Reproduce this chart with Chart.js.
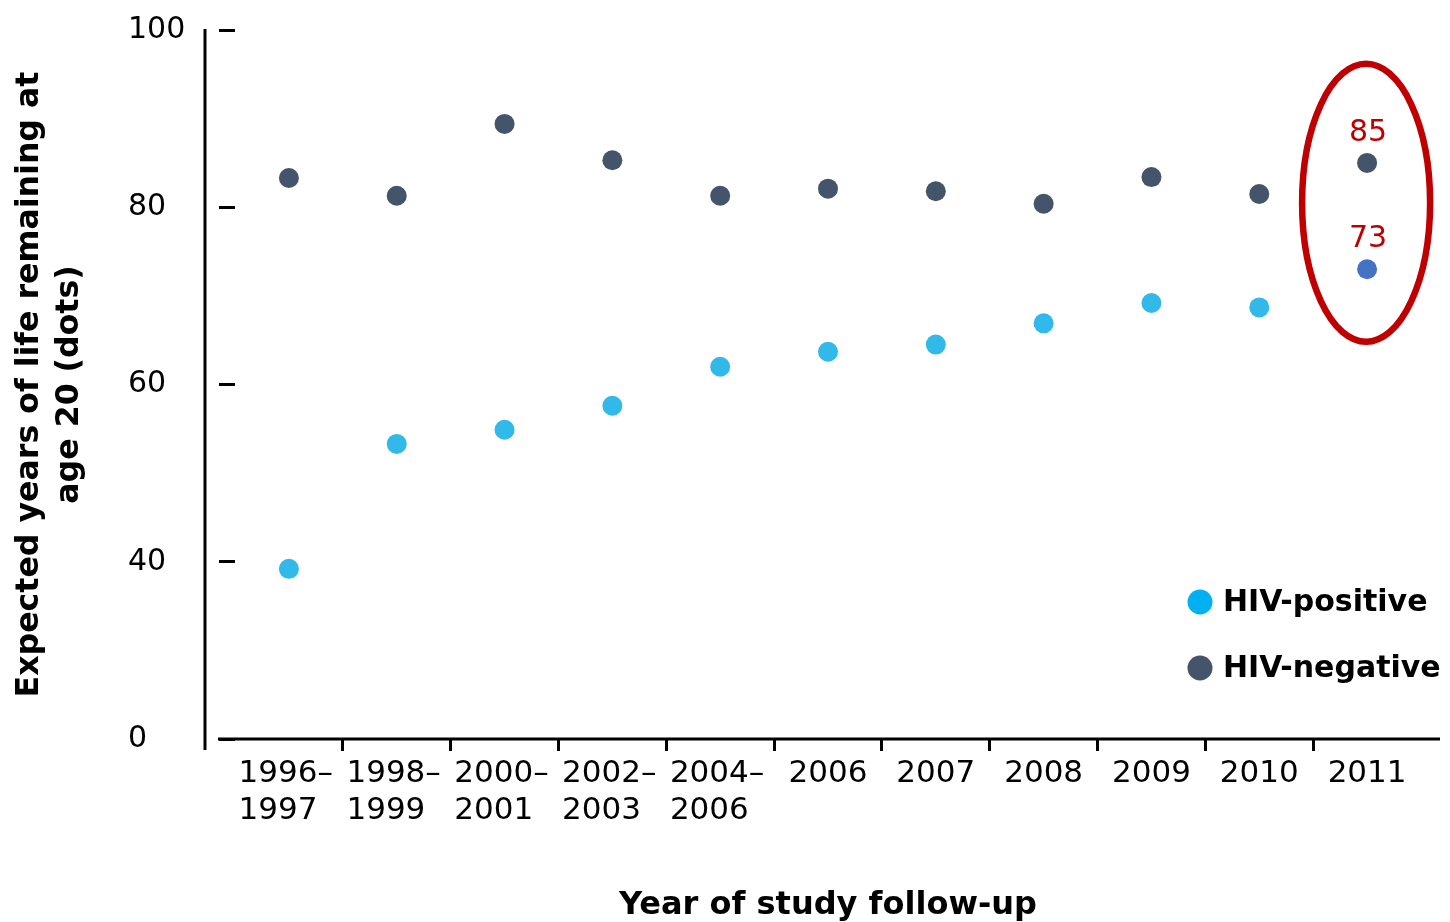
<!DOCTYPE html>
<html>
<head>
<meta charset="utf-8">
<title>Expected years of life remaining at age 20</title>
<script src="https://cdn.jsdelivr.net/npm/chart.js@4.4.0/dist/chart.umd.min.js"></script>
<style>
    body { margin: 0; background: #fff; }
    canvas { display: block; }
</style>
</head>
<body>
<canvas id="lifeChart" width="1450" height="922"></canvas>
<script>
// categories (two-line labels; spaces pad the lines so both start at the same x)
const periods = [
    ['1996\u2013\u2009', '1997\u2002\u2009'],
    ['1998\u2013\u2009', '1999\u2002\u2009'],
    ['2000\u2013\u2009', '2001\u2002\u2009'],
    ['2002\u2013\u2009', '2003\u2002\u2009'],
    ['2004\u2013\u2009', '2006\u2002\u2009'],
    '2006', '2007', '2008', '2009', '2010', '2011'
];
const hivPositive = [39.2, 53.3, 54.9, 57.6, 62.0, 63.7, 64.5, 66.9, 69.2, 68.7, 73];
const hivNegative = [83.3, 81.3, 89.4, 85.3, 81.3, 82.1, 81.8, 80.4, 83.4, 81.5, 85];
const seriesNames = ['HIV-positive', 'HIV-negative'];

// broken axis: the lowest gridline (20) is labelled "0"
const yTickValues = [20, 40, 60, 80, 100];
const yTickLabels = ['0', '40', '60', '80', '100'];

const positiveColor = '#31B9EA';
const positiveLastColor = '#4472C4';
const negativeColor = '#44546A';
const legendColors = ['#00B0F0', '#44546A'];
const highlightRed = '#C00000';
const FONT = "'DejaVu Sans', Verdana, sans-serif";

Chart.defaults.color = '#000';
Chart.defaults.font.family = FONT;

const decorations = {
    id: 'decorations',
    afterDraw(chart) {
        const { ctx, chartArea, scales: { x, y } } = chart;
        ctx.save();

        // axis lines
        ctx.strokeStyle = '#000';
        ctx.lineWidth = 3;
        ctx.beginPath();
        ctx.moveTo(chartArea.left - 30, chartArea.top - 1);
        ctx.lineTo(chartArea.left - 30, chartArea.bottom + 11);
        ctx.moveTo(chartArea.left - 17, chartArea.bottom);
        ctx.lineTo(chartArea.right + 19, chartArea.bottom);
        ctx.stroke();

        // y axis title
        ctx.fillStyle = '#000';
        ctx.font = 'bold 31.6px ' + FONT;
        ctx.textAlign = 'center';
        ctx.textBaseline = 'middle';
        const midY = (chartArea.top + chartArea.bottom) / 2;
        ctx.save();
        ctx.translate(30, midY);
        ctx.rotate(-Math.PI / 2);
        ctx.fillText('Expected years of life remaining at', 0, 0);
        ctx.fillText('age 20 (dots)', 0, 40);
        ctx.restore();

        // highlight for the last period
        const last = periods.length - 1;
        const cx = x.getPixelForValue(last);
        ctx.strokeStyle = highlightRed;
        ctx.lineWidth = 6.5;
        ctx.beginPath();
        ctx.ellipse(cx - 1, y.getPixelForValue(80.5), 64, 139, 0, 0, Math.PI * 2);
        ctx.stroke();

        ctx.fillStyle = highlightRed;
        ctx.font = '30px ' + FONT;
        [1, 0].forEach(i => {
            const pt = chart.getDatasetMeta(i).data[last];
            const val = chart.data.datasets[i].data[last];
            ctx.fillText(String(Math.round(val)), pt.x + 1, pt.y - 30);
        });

        // legend
        const lx = chartArea.right - 221;
        const rows = [chartArea.bottom - 137, chartArea.bottom - 71];
        ctx.font = 'bold 30px ' + FONT;
        ctx.textAlign = 'left';
        seriesNames.forEach((name, i) => {
            ctx.fillStyle = legendColors[i];
            ctx.beginPath();
            ctx.arc(lx, rows[i], 12.5, 0, Math.PI * 2);
            ctx.fill();
            ctx.fillStyle = '#000';
            ctx.fillText(name, lx + 23, rows[i] + 1);
        });

        ctx.restore();
    }
};

const chartCtx = document.getElementById('lifeChart');
new Chart(chartCtx, {
    type: 'line',
    data: {
        labels: periods,
        datasets: [{
            label: seriesNames[0],
            data: hivPositive,
            showLine: false,
            pointRadius: 10,
            pointHoverRadius: 10,
            pointBorderWidth: 0,
            pointBackgroundColor: hivPositive.map((v, i) => i === hivPositive.length - 1 ? positiveLastColor : positiveColor),
            pointBorderColor: 'transparent'
        }, {
            label: seriesNames[1],
            data: hivNegative,
            showLine: false,
            pointRadius: 10,
            pointHoverRadius: 10,
            pointBorderWidth: 0,
            pointBackgroundColor: negativeColor,
            pointBorderColor: 'transparent'
        }]
    },
    options: {
        responsive: false,
        animation: false,
        layout: { padding: { left: 128, top: 30, right: 29, bottom: 0 } },
        plugins: {
            legend: { display: false },
            tooltip: { enabled: false }
        },
        scales: {
            x: {
                offset: true,
                border: { display: false },
                grid: {
                    offset: true,
                    drawOnChartArea: false,
                    drawTicks: true,
                    tickLength: 12,
                    lineWidth: 3,
                    color: c => (c.type === 'tick' && c.index > 0) ? '#000' : 'transparent'
                },
                ticks: {
                    font: { size: 31 },
                    padding: 4,
                    maxRotation: 0,
                    autoSkip: false
                },
                title: {
                    display: true,
                    text: 'Year of study follow-up',
                    font: { size: 32, weight: 'bold', lineHeight: 1.05 },
                    padding: { top: 0, bottom: 0 }
                },
                afterFit: scale => { scale.height = 183; }
            },
            y: {
                min: 20,
                max: 100,
                border: { display: false },
                grid: {
                    drawOnChartArea: false,
                    drawTicks: true,
                    tickLength: 16,
                    lineWidth: 3,
                    color: '#000'
                },
                afterBuildTicks: scale => {
                    scale.ticks = yTickValues.map(v => ({ value: v }));
                },
                ticks: {
                    font: { size: 30 },
                    crossAlign: 'far',
                    callback: v => yTickLabels[yTickValues.indexOf(v)]
                },
                afterFit: scale => { scale.width = 107; }
            }
        }
    },
    plugins: [decorations]
});
</script>
</body>
</html>
